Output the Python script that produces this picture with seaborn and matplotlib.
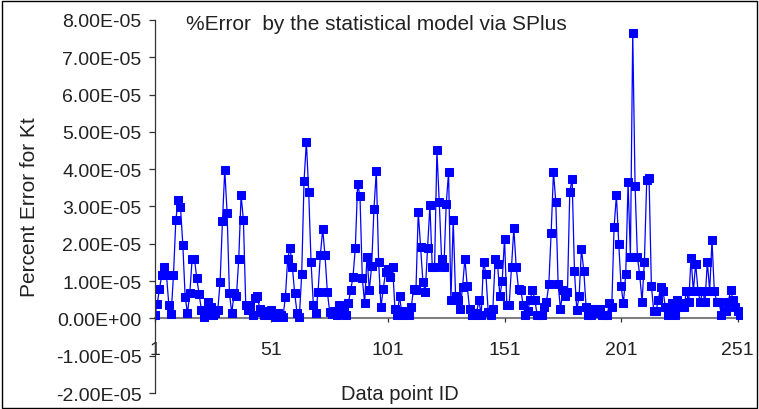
import numpy as np
import pandas as pd
import matplotlib
matplotlib.use("Agg")
import matplotlib.pyplot as plt
import seaborn as sns
from matplotlib.patches import Rectangle
from matplotlib.ticker import FuncFormatter

# percent error values (x 1e-5), points 1..252
err_1_50 = [0.09, 0.38, 0.80, 1.16, 1.38, 1.16, 0.36, 0.13, 1.16, 2.63,
            3.18, 2.99, 1.98, 0.58, 0.14, 0.67, 1.60, 1.60, 1.07, 0.65,
            0.22, 0.05, 0.20, 0.43, 0.30, 0.10, 0.15, 0.22, 0.98, 2.60,
            3.98, 2.83, 0.67, 0.14, 0.67, 0.60, 1.60, 3.30, 2.63, 0.36,
            0.22, 0.30, 0.09, 0.55, 0.60, 0.25, 0.18, 0.10, 0.20, 0.08]
err_51_100 = [0.22, 0.10, 0.05, 0.15, 0.08, 0.05, 0.58, 1.60, 1.90, 1.38,
              0.67, 0.15, 0.05, 1.18, 3.67, 4.74, 3.39, 1.52, 0.36, 0.14,
              0.70, 1.69, 2.39, 1.69, 0.71, 0.18, 0.12, 0.20, 0.10, 0.36,
              0.15, 0.22, 0.10, 0.40, 0.76, 1.11, 1.89, 3.61, 3.27, 1.07,
              0.40, 1.65, 0.76, 1.40, 2.94, 3.95, 1.52, 0.30, 0.80, 1.25]
err_101_150 = [1.33, 1.11, 1.38, 0.25, 0.10, 0.60, 0.09, 0.20, 0.15, 0.09,
               0.31, 0.80, 0.75, 2.85, 1.92, 0.98, 0.71, 1.90, 3.03, 1.38,
               1.38, 4.50, 3.12, 1.60, 1.38, 3.07, 3.92, 0.48, 2.63, 0.60,
               0.50, 0.25, 0.84, 1.60, 0.87, 0.25, 0.10, 0.09, 0.15, 0.48,
               0.10, 1.52, 1.20, 0.18, 0.10, 0.25, 1.60, 1.47, 0.60, 1.00]
err_151_200 = [2.14, 0.36, 0.36, 1.38, 2.41, 1.38, 0.80, 0.76, 0.36, 0.09,
               0.20, 0.50, 0.76, 0.50, 0.09, 0.09, 0.09, 0.30, 0.45, 0.91,
               2.29, 3.92, 3.12, 0.91, 0.25, 0.76, 0.60, 0.71, 3.39, 3.74,
               1.27, 0.22, 0.60, 1.87, 1.27, 0.31, 0.09, 0.09, 0.25, 0.25,
               0.15, 0.25, 0.10, 0.09, 0.09, 0.40, 0.30, 2.45, 3.30, 2.00]
err_201_252 = [0.87, 0.40, 1.20, 3.65, 1.65, 7.65, 3.56, 1.65, 1.16, 0.45,
               1.52, 3.70, 3.76, 0.87, 0.20, 0.20, 0.50, 0.85, 0.73, 0.30,
               0.10, 0.20, 0.40, 0.10, 0.50, 0.30, 0.40, 0.30, 0.73, 0.43,
               1.62, 0.73, 1.47, 0.73, 0.45, 0.73, 0.45, 1.52, 0.73, 2.09,
               0.73, 0.45, 0.45, 0.10, 0.20, 0.20, 0.45, 0.76, 0.50, 0.30,
               0.20, 0.10]

x_ticks = [1, 51, 101, 151, 201, 251]
y_ticks = [-2e-5, -1e-5, 0, 1e-5, 2e-5, 3e-5, 4e-5, 5e-5, 6e-5, 7e-5, 8e-5]

err = err_1_50 + err_51_100 + err_101_150 + err_151_200 + err_201_252
df = pd.DataFrame({"id": np.arange(1, len(err) + 1),
                   "pct_err": np.array(err) * 1e-5})

sns.set_style("white")
plt.rcParams["font.family"] = ["Liberation Sans", "DejaVu Sans"]
fs = 14.5

fig = plt.figure(figsize=(7.59, 4.10), dpi=100)
ax = fig.add_axes([0.204, 0.039, 0.774, 0.91])

sns.lineplot(data=df, x="id", y="pct_err", ax=ax, color="#0000ff",
             marker="s", markersize=6.3, markeredgecolor="#0000ff",
             linewidth=0.9)

ax.set_xlim(1, 253)
ax.set_ylim(-2e-5, 8e-5)
ax.set_yticks(y_ticks)
ax.yaxis.set_major_formatter(FuncFormatter(
    lambda v, p: "0.00E+00" if v == 0 else "%.2E" % v))
ax.set_xticks(x_ticks)

ax.spines["top"].set_visible(False)
ax.spines["right"].set_visible(False)
ax.spines["left"].set_color("#333333")
ax.spines["left"].set_linewidth(0.9)
ax.spines["bottom"].set_position(("data", 0))
ax.spines["bottom"].set_color("#808080")
ax.spines["bottom"].set_linewidth(1.5)
ax.spines["bottom"].set_zorder(0.5)

ax.tick_params(axis="y", direction="out", length=4.5, width=0.9,
               labelsize=fs - 0.5, pad=5, left=True, color="#333333",
               labelcolor="#222222")
ax.tick_params(axis="x", direction="out", length=3, width=0.9,
               labelsize=fs - 0.5, pad=13, bottom=True, color="#333333",
               labelcolor="#222222")

ax.set_xlabel("Data point ID", fontsize=fs, color="#222222")
ax.xaxis.set_label_coords(0.417, -0.016, transform=ax.transAxes)
ax.xaxis.label.set_va("baseline")
ax.set_ylabel("Percent Error for Kt", fontsize=fs + 0.5, color="#222222")
ax.yaxis.set_label_coords(-0.198, 0.5)

ax.text(0.053, 0.976, "%Error  by the statistical model via SPlus",
        transform=ax.transAxes, fontsize=fs + 0.5, ha="left",
        va="baseline", color="#222222")

fig.patches.append(Rectangle((0.002, 0.003), 0.995, 0.993,
                             transform=fig.transFigure, fill=False,
                             edgecolor="black", linewidth=1))

fig.savefig("out.png", dpi=100)
